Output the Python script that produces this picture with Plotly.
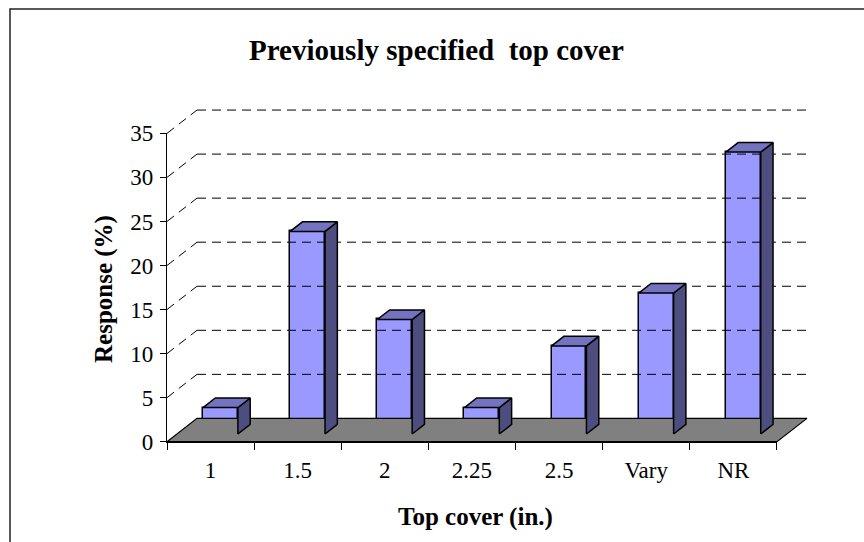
import plotly.graph_objects as go

# ---------------- data ----------------
categories = ["1", "1.5", "2", "2.25", "2.5", "Vary", "NR"]
responses = [3, 23, 13, 3, 10, 16, 32]
y_ticks = [0, 5, 10, 15, 20, 25, 30, 35]
title_text = "Previously specified\u00a0 top cover"
x_title = "Top cover (in.)"
y_title = "Response (%)"

# ---------------- layout constants (pixels) ----------------
W, H = 864, 542
X0, Y0 = 167.0, 441.7          # front-plane origin (pixels)
KX, KY = 87.14, 8.81           # pixels per category / per value unit
DEPTH_PX = (30.0, 23.3)        # depth offset of back wall in pixels
DX = DEPTH_PX[0] / KX          # depth in category units
DY = DEPTH_PX[1] / KY          # depth in value units
YMAX = 35
N = len(categories)

F0, F1 = 0.33, 0.74            # bar depth span (fraction of depth)
HALF_W = 0.20                  # half bar width (category units)

FRONT = "#9999FF"
TOP = "#7373C0"
SIDE = "#4D4D80"
FLOOR = "#808080"


def px(x):
    return x / W


def py(y):
    return 1 - y / H


# main (3D drawing) subplot extents in pixels
MX0, MX1, MY0, MY1 = 140.0, 840.0, 90.0, 460.0
xr = [(MX0 - X0) / KX, (MX1 - X0) / KX]
yr = [(Y0 - MY1) / KY, (Y0 - MY0) / KY]

fig = go.Figure()

# floor
fig.add_trace(go.Scatter(
    x=[0, N, N + DX, DX, 0], y=[0, 0, DY, DY, 0],
    mode="lines", fill="toself", fillcolor=FLOOR,
    line=dict(color="black", width=1.2), hoverinfo="skip", showlegend=False,
    xaxis="x", yaxis="y"))

# back-wall gridlines and diagonal connectors
gx, gy, dxs, dys = [], [], [], []
for v in y_ticks[1:]:
    gx += [DX, N + DX, None]
    gy += [v + DY, v + DY, None]
    dxs += [0, DX, None]
    dys += [v, v + DY, None]
fig.add_trace(go.Scatter(x=gx, y=gy, mode="lines",
                         line=dict(color="black", width=1, dash="9px,6px"),
                         hoverinfo="skip", showlegend=False))
fig.add_trace(go.Scatter(x=dxs, y=dys, mode="lines",
                         line=dict(color="black", width=1, dash="9px,6px"),
                         hoverinfo="skip", showlegend=False))

# bars: side faces, top faces, then front faces
base = F0 * DY
offx = F0 * DX
ddx = (F1 - F0) * DX
ddy = (F1 - F0) * DY
sx, sy, tx, ty = [], [], [], []
centers = []
for i, v in enumerate(responses):
    c = i + 0.5 + offx
    centers.append(c)
    xl, xrr = c - HALF_W, c + HALF_W
    top = base + v
    sx += [xrr, xrr, xrr + ddx, xrr + ddx, xrr, None]
    sy += [base, top, top + ddy, base + ddy, base, None]
    tx += [xl, xrr, xrr + ddx, xl + ddx, xl, None]
    ty += [top, top, top + ddy, top + ddy, top, None]

fig.add_trace(go.Scatter(x=sx, y=sy, mode="lines", fill="toself", fillcolor=SIDE,
                         line=dict(color="black", width=1.5), hoverinfo="skip",
                         showlegend=False))
fig.add_trace(go.Scatter(x=tx, y=ty, mode="lines", fill="toself", fillcolor=TOP,
                         line=dict(color="black", width=1.5), hoverinfo="skip",
                         showlegend=False))
fig.add_trace(go.Bar(x=centers, y=responses, base=base, width=2 * HALF_W,
                     marker=dict(color=FRONT, line=dict(color="black", width=1.5)),
                     hoverinfo="skip", showlegend=False))

# front-plane axes subplot (ticks, labels, axis lines)
fig.add_trace(go.Scatter(x=[0.5], y=[0], mode="markers", marker=dict(opacity=0),
                         hoverinfo="skip", showlegend=False, xaxis="x2", yaxis="y2"))

FONT = "Liberation Serif, Times New Roman, serif"

fig.update_layout(
    width=W, height=H,
    autosize=False,
    showlegend=False,
    margin=dict(l=0, r=0, t=0, b=0, pad=0, autoexpand=False),
    paper_bgcolor="white", plot_bgcolor="rgba(0,0,0,0)",
    bargap=0,
    xaxis=dict(domain=[px(MX0), px(MX1)], range=xr, visible=False, fixedrange=True,
               automargin=False),
    yaxis=dict(domain=[py(MY1), py(MY0)], range=yr, visible=False, fixedrange=True,
               automargin=False),
    xaxis2=dict(domain=[px(X0), px(X0 + N * KX)], range=[0, N], anchor="y2",
                tickvals=[i + 0.5 for i in range(N)], ticktext=categories,
                ticks="", showgrid=False, zeroline=False,
                showline=True, linecolor="black", linewidth=1.2,
                tickfont=dict(family=FONT, size=23, color="black"),
                ticklabelstandoff=8, automargin=False,
                minor=dict(tickvals=list(range(N + 1)), ticks="outside",
                           ticklen=7, tickcolor="black", tickwidth=1.2,
                           showgrid=False),
                fixedrange=True),
    yaxis2=dict(domain=[py(Y0), py(Y0 - YMAX * KY)], range=[0, YMAX], anchor="x2",
                tickvals=y_ticks, ticktext=[str(t) for t in y_ticks],
                ticks="outside", ticklen=6, tickcolor="black", tickwidth=1.2,
                showgrid=False, zeroline=False,
                showline=True, linecolor="black", linewidth=1.2,
                tickfont=dict(family=FONT, size=23, color="black"),
                ticklabelstandoff=2, automargin=False,
                fixedrange=True),
    shapes=[dict(type="rect", xref="paper", yref="paper",
                 x0=px(10), x1=px(W + 10), y0=py(H + 10), y1=py(9),
                 line=dict(color="#222222", width=1.5), fillcolor="rgba(0,0,0,0)")],
    annotations=[
        dict(text=f"<b>{title_text}</b>", xref="paper", yref="paper",
             x=px(436), y=py(50), showarrow=False, xanchor="center", yanchor="middle",
             font=dict(family=FONT, size=29, color="black")),
        dict(text=f"<b>{x_title}</b>", xref="paper", yref="paper",
             x=px(475), y=py(517), showarrow=False, xanchor="center", yanchor="middle",
             font=dict(family=FONT, size=25, color="black")),
        dict(text=f"<b>{y_title}</b>", xref="paper", yref="paper",
             x=px(104), y=py(289), showarrow=False, xanchor="center", yanchor="middle",
             textangle=-90, font=dict(family=FONT, size=25, color="black")),
    ],
)

fig.write_html("out.html",
               config={"displayModeBar": False},
               post_script="document.body.style.margin='0';"
                           "document.body.style.overflow='hidden';")
